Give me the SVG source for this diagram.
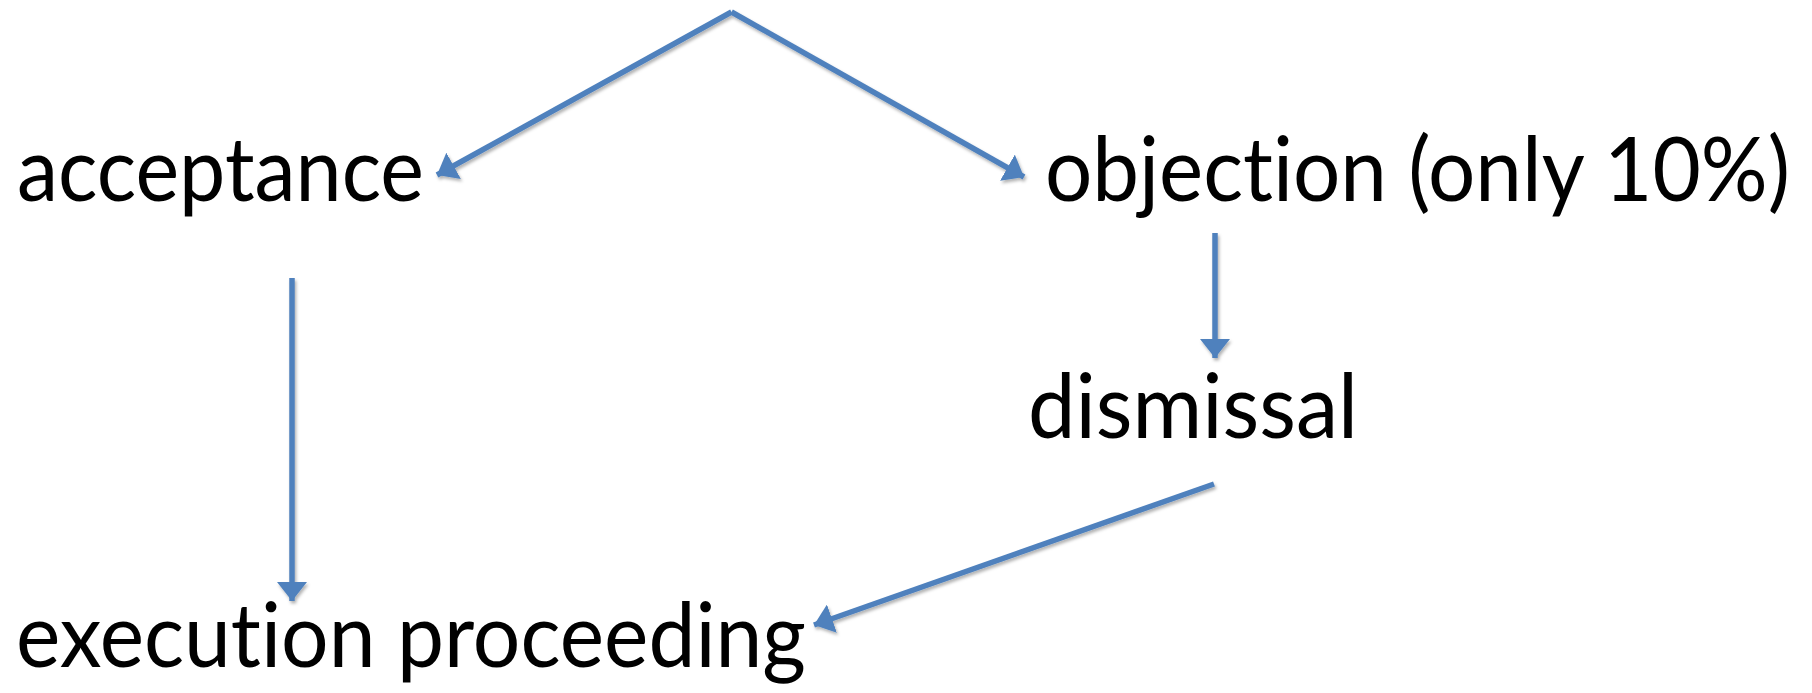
<svg xmlns="http://www.w3.org/2000/svg" width="1812" height="693" viewBox="0 0 1812 693">
<style>
.lbl{font-family:Lato,"Open Sans","Liberation Sans",sans-serif;font-size:90px;fill:#000;font-variant-ligatures:none;font-feature-settings:"liga" 0,"clig" 0}
.conn{stroke:#4F81BD;stroke-width:5.5;fill:none;marker-end:url(#ah)}
</style>
<defs>
<marker id="ah" markerUnits="userSpaceOnUse" markerWidth="20" markerHeight="30" refX="19" refY="15" orient="auto" viewBox="0 0 20 30">
<path d="M0,0 L19,15 L0,30 z" fill="#4F81BD"/>
</marker>
<filter id="sh" filterUnits="userSpaceOnUse" x="0" y="0" width="1812" height="693">
<feDropShadow dx="1.5" dy="2.5" stdDeviation="1.5" flood-color="#000" flood-opacity="0.3"/>
</filter>
</defs>
<g id="connectors" filter="url(#sh)">
<line class="conn" x1="731.5" y1="12" x2="437" y2="175"/>
<line class="conn" x1="731.5" y1="12" x2="1024" y2="177"/>
<line class="conn" x1="292" y1="278" x2="292" y2="601"/>
<line class="conn" x1="1215" y1="233" x2="1215" y2="358"/>
<line class="conn" x1="1214" y1="484" x2="814" y2="625"/>
</g>
<g id="node-acceptance"><text class="lbl" x="17" y="201" textLength="407" lengthAdjust="spacingAndGlyphs">acceptance</text></g>
<g id="node-objection"><text class="lbl" x="1045" y="201" textLength="745" lengthAdjust="spacingAndGlyphs">objection (only 10%)</text></g>
<g id="node-dismissal"><text class="lbl" x="1028" y="438" textLength="330" lengthAdjust="spacingAndGlyphs">dismissal</text></g>
<g id="node-execution"><text class="lbl" x="16" y="667" textLength="790" lengthAdjust="spacingAndGlyphs">execution proceeding</text></g>
</svg>
